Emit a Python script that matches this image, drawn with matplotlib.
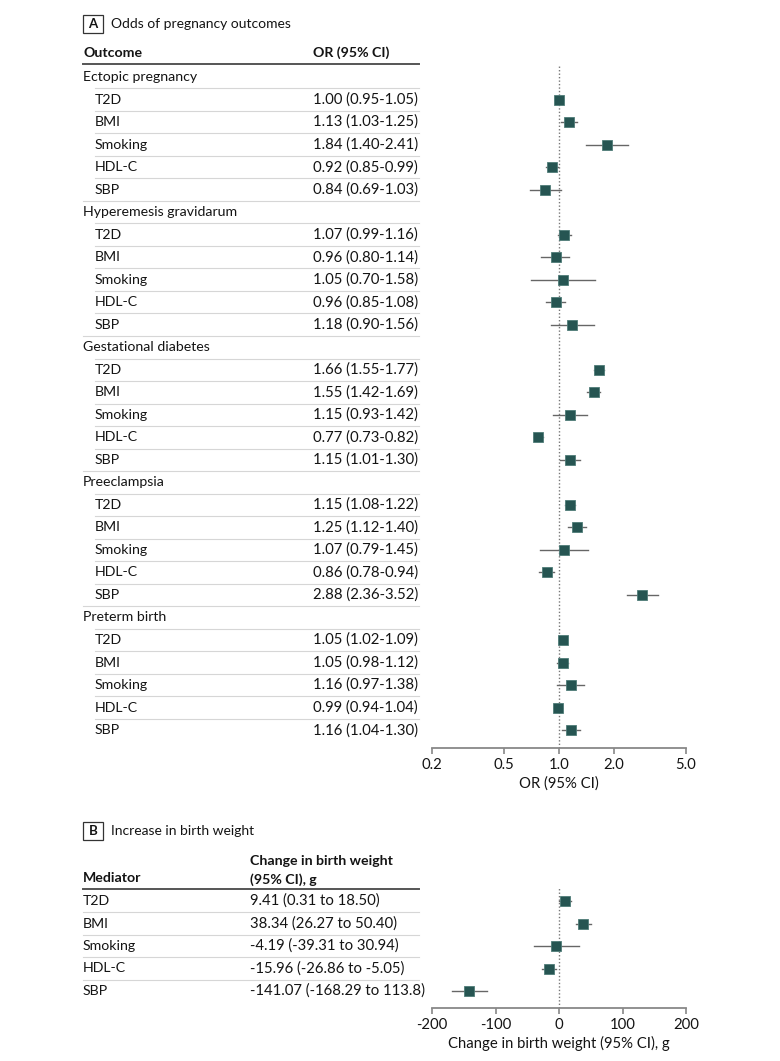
import matplotlib
matplotlib.use("Agg")
import matplotlib.pyplot as plt
import numpy as np
from matplotlib.patches import Rectangle

plt.rcParams['font.family'] = ['Lato', 'DejaVu Sans']
plt.rcParams['axes.unicode_minus'] = False

# ---------------- data ----------------
groups = ["Ectopic pregnancy", "Hyperemesis gravidarum", "Gestational diabetes",
          "Preeclampsia", "Preterm birth"]
mediators = ["T2D", "BMI", "Smoking", "HDL-C", "SBP"]

or_est = [[1.00, 1.13, 1.84, 0.92, 0.84],
          [1.07, 0.96, 1.05, 0.96, 1.18],
          [1.66, 1.55, 1.15, 0.77, 1.15],
          [1.15, 1.25, 1.07, 0.86, 2.88],
          [1.05, 1.05, 1.16, 0.99, 1.16]]
or_lo = [[0.95, 1.03, 1.40, 0.85, 0.69],
         [0.99, 0.80, 0.70, 0.85, 0.90],
         [1.55, 1.42, 0.93, 0.73, 1.01],
         [1.08, 1.12, 0.79, 0.78, 2.36],
         [1.02, 0.98, 0.97, 0.94, 1.04]]
or_hi = [[1.05, 1.25, 2.41, 0.99, 1.03],
         [1.16, 1.14, 1.58, 1.08, 1.56],
         [1.77, 1.69, 1.42, 0.82, 1.30],
         [1.22, 1.40, 1.45, 0.94, 3.52],
         [1.09, 1.12, 1.38, 1.04, 1.30]]
or_ticks = [0.2, 0.5, 1.0, 2.0, 5.0]
or_ticklabels = ["0.2", "0.5", "1.0", "2.0", "5.0"]

bw_est = [9.41, 38.34, -4.19, -15.96, -141.07]
bw_lo = [0.31, 26.27, -39.31, -26.86, -168.29]
bw_hi = [18.50, 50.40, 30.94, -5.05, -113.8]
bw_labels = ["9.41 (0.31 to 18.50)", "38.34 (26.27 to 50.40)", "-4.19 (-39.31 to 30.94)",
             "-15.96 (-26.86 to -5.05)", "-141.07 (-168.29 to 113.8)"]
bw_ticks = [-200, -100, 0, 100, 200]

# ---------------- layout ----------------
W, H = 780, 1061
fig = plt.figure(figsize=(W / 100, H / 100), dpi=100)
bg = fig.add_axes([0, 0, 1, 1])
bg.set_xlim(0, W)
bg.set_ylim(H, 0)
bg.axis('off')

TXT = '#141414'
SEP = '#d6d6d6'
DARK = '#555555'
MK = '#265552'
FS = 10.2
FSN = 10.7
x_left, x_ind, x_col, x_right = 83, 95, 313, 419


def panel_box(letter, y, title):
    bg.add_patch(Rectangle((83, y - 9), 20, 18, fill=False, ec='#333333', lw=0.9))
    bg.text(93, y, letter, ha='center', va='center', fontsize=9.5, fontweight='bold', color=TXT)
    bg.text(111, y, title, ha='left', va='center', fontsize=10, color=TXT)


# ---------- Panel A ----------
panel_box("A", 24, "Odds of pregnancy outcomes")
bg.text(x_left, 53, "Outcome", ha='left', va='center', fontsize=FS, fontweight='bold', color=TXT)
bg.text(x_col, 53, "OR (95% CI)", ha='left', va='center', fontsize=FS, fontweight='bold', color=TXT)
bg.plot([x_left, x_right], [64, 64], color=DARK, lw=1.4)

y0, pitch = 77, 22.52
row = 0
for g, gname in enumerate(groups):
    yh = y0 + pitch * row
    bg.text(x_left, yh, gname, ha='left', va='center', fontsize=FS, color=TXT)
    bg.plot([x_ind, x_right], [yh + pitch / 2, yh + pitch / 2], color=SEP, lw=0.8)
    row += 1
    for m, mname in enumerate(mediators):
        yr = y0 + pitch * row
        bg.text(x_ind, yr, mname, ha='left', va='center', fontsize=FS, color=TXT)
        lab = f"{or_est[g][m]:.2f} ({or_lo[g][m]:.2f}-{or_hi[g][m]:.2f})"
        bg.text(x_col, yr, lab, ha='left', va='center', fontsize=FSN, color=TXT)
        if not (g == len(groups) - 1 and m == len(mediators) - 1):
            xs = x_left if m == len(mediators) - 1 else x_ind
            bg.plot([xs, x_right], [yr + pitch / 2, yr + pitch / 2], color=SEP, lw=0.8)
        row += 1

# forest axes A
ax_top, ax_bot = 64, 748
axA = fig.add_axes([432 / W, 1 - ax_bot / H, (686 - 432) / W, (ax_bot - ax_top) / H])
axA.set_xscale('log')
axA.set_xlim(0.2, 5.0)
axA.set_ylim((ax_bot - y0) / pitch, (ax_top - y0) / pitch)
axA.patch.set_alpha(0)
row = 0
for g in range(len(groups)):
    row += 1
    for m in range(len(mediators)):
        axA.plot([or_lo[g][m], or_hi[g][m]], [row, row], color='#666666', lw=1.0, zorder=2)
        axA.plot([or_est[g][m]], [row], marker='s', ms=7.5, color=MK, mec='#4f7c78',
                 mew=0.6, zorder=3)
        row += 1
axA.axvline(1.0, color='#777777', lw=1.0, ls=(0, (1, 1.5)), zorder=1)
for s in ['top', 'right', 'left']:
    axA.spines[s].set_visible(False)
axA.spines['bottom'].set_color('#888888')
axA.spines['bottom'].set_linewidth(1.3)
axA.set_yticks([])
axA.set_xticks(or_ticks)
axA.set_xticklabels(or_ticklabels)
axA.xaxis.set_minor_locator(matplotlib.ticker.NullLocator())
axA.tick_params(axis='x', length=4, width=1.2, color='#888888', labelsize=FSN,
                labelcolor=TXT, pad=3)
axA.set_xlabel("OR (95% CI)", fontsize=FSN, color=TXT, labelpad=3)

# ---------- Panel B ----------
panel_box("B", 831, "Increase in birth weight")
bg.text(x_left, 878, "Mediator", ha='left', va='center', fontsize=FS, fontweight='bold', color=TXT)
bg.text(250, 861, "Change in birth weight", ha='left', va='center', fontsize=FS,
        fontweight='bold', color=TXT)
bg.text(250, 880, "(95% CI), g", ha='left', va='center', fontsize=FS, fontweight='bold', color=TXT)
bg.plot([x_left, x_right], [889, 889], color=DARK, lw=1.4)

yb0, pitchB = 901, 22.5
for m, mname in enumerate(mediators):
    yr = yb0 + pitchB * m
    bg.text(x_left, yr, mname, ha='left', va='center', fontsize=FS, color=TXT)
    bg.text(250, yr, bw_labels[m], ha='left', va='center', fontsize=FSN, color=TXT)
    if m < len(mediators) - 1:
        bg.plot([x_left, x_right], [yr + pitchB / 2, yr + pitchB / 2], color=SEP, lw=0.8)

axb_top, axb_bot = 888, 1008
axB = fig.add_axes([432 / W, 1 - axb_bot / H, (686 - 432) / W, (axb_bot - axb_top) / H])
axB.set_xlim(-200, 200)
axB.set_ylim((axb_bot - yb0) / pitchB, (axb_top - yb0) / pitchB)
axB.patch.set_alpha(0)
for m in range(len(mediators)):
    axB.plot([bw_lo[m], bw_hi[m]], [m, m], color='#666666', lw=1.0, zorder=2)
    axB.plot([bw_est[m]], [m], marker='s', ms=7.5, color=MK, mec='#4f7c78', mew=0.6, zorder=3)
axB.axvline(0, color='#777777', lw=1.0, ls=(0, (1, 1.5)), zorder=1)
for s in ['top', 'right', 'left']:
    axB.spines[s].set_visible(False)
axB.spines['bottom'].set_color('#888888')
axB.spines['bottom'].set_linewidth(1.3)
axB.set_yticks([])
axB.set_xticks(bw_ticks)
axB.tick_params(axis='x', length=4, width=1.2, color='#888888', labelsize=FSN,
                labelcolor=TXT, pad=3)
axB.set_xlabel("Change in birth weight (95% CI), g", fontsize=FSN, color=TXT, labelpad=3)

fig.savefig("out.png", dpi=100)
